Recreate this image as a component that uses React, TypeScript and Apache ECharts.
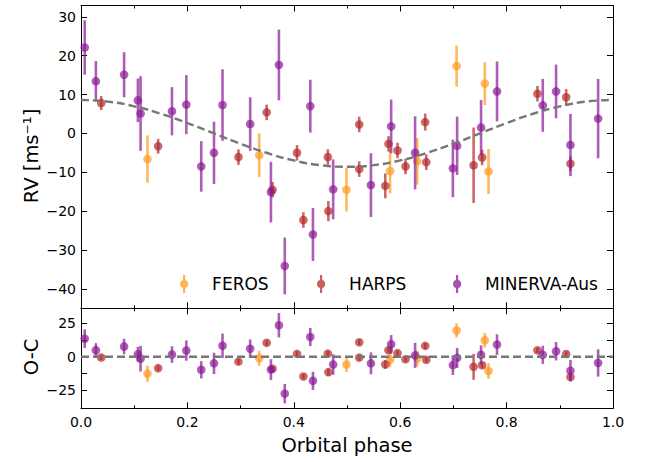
import React, { useEffect, useRef } from "react";
import * as echarts from "echarts";

// ---- Data ----
const ferosPhase = [0.125, 0.335, 0.499, 0.581, 0.632, 0.706, 0.759, 0.766];
const ferosRv = [-6.6, -5.6, -14.5, -9.7, -7.2, 17.3, 12.8, -9.8];
const ferosErr = [6.1, 5.6, 5.6, 5.7, 6.0, 5.3, 5.5, 5.8];
const ferosOc = [-12.7, -1.2, -5.9, -2.2, -1.4, 19.7, 12.3, -10.7];

const harpsPhase = [0.038, 0.145, 0.296, 0.349, 0.36, 0.406, 0.418, 0.464, 0.465, 0.523, 0.523, 0.572, 0.578, 0.595, 0.61, 0.647, 0.649, 0.738, 0.754, 0.858, 0.912, 0.92];
const harpsRv = [7.8, -3.3, -6.1, 5.4, -14.5, -5.0, -22.3, -6.1, -20.0, 2.3, -9.2, -13.5, -2.7, -4.4, -8.5, 2.9, -7.4, -8.2, -6.2, 10.2, 9.3, -7.8];
const harpsErr = [1.8, 1.9, 2.0, 2.0, 2.0, 2.0, 2.0, 2.0, 2.6, 2.0, 2.0, 3.2, 2.0, 2.0, 2.0, 2.2, 2.0, 9.7, 2.0, 2.0, 2.1, 1.9];
const harpsOc = [-0.6, -8.6, -3.7, 10.4, -9.0, 2.1, -14.8, 2.3, -11.6, 10.8, -0.7, -5.8, 4.9, 2.7, -1.9, 8.1, -2.3, -7.6, -6.4, 4.8, 2.0, -15.3];

const minervaPhase = [0.007, 0.028, 0.081, 0.107, 0.112, 0.171, 0.198, 0.226, 0.25, 0.266, 0.318, 0.357, 0.372, 0.383, 0.431, 0.436, 0.474, 0.545, 0.583, 0.628, 0.699, 0.707, 0.752, 0.782, 0.868, 0.893, 0.92, 0.972];
const minervaRv = [22.1, 13.4, 15.1, 8.5, 5.1, 5.7, 7.4, -8.5, -5.0, 7.3, 2.4, -15.1, 17.6, -34.1, 7.0, -26.0, -14.4, -13.3, 1.8, -5.0, -9.0, -3.2, 1.5, 10.8, 7.2, 10.8, -3.0, 3.8];
const minervaErr = [7.0, 5.2, 5.8, 5.6, 9.6, 6.2, 7.6, 6.5, 8.0, 9.2, 6.9, 7.8, 9.1, 7.3, 6.8, 6.8, 7.7, 8.2, 6.9, 9.4, 7.4, 7.5, 7.1, 7.7, 6.8, 6.9, 8.0, 10.2];
const minervaOc = [13.5, 4.9, 7.6, 1.8, -1.5, 1.6, 4.6, -9.8, -5.0, 8.2, 6.0, -9.7, 23.6, -27.7, 14.8, -18.1, -5.9, -5.0, 9.3, 1.0, -6.3, -0.9, 1.4, 9.1, 1.4, 4.1, -10.5, -4.7];

const modelPhase = [0, 0.05, 0.1, 0.15, 0.2, 0.25, 0.3, 0.35, 0.4, 0.45, 0.5, 0.55, 0.6, 0.65, 0.7, 0.75, 0.8, 0.85, 0.9, 0.95, 1.0];
const modelRv = [8.6, 8.18, 6.96, 5.05, 2.66, 0, -2.66, -5.05, -6.96, -8.18, -8.6, -8.18, -6.96, -5.05, -2.66, 0, 2.66, 5.05, 6.96, 8.18, 8.6];
const zeroPhase = [0, 1];
const zeroOc = [0, 0];

const rvTicks = [-40, -30, -20, -10, 0, 10, 20, 30];
const ocLabels = [-25, 0, 25];
const ocTicks = [-25, -12.5, 0, 12.5, 25];

const COLORS = { FEROS: "#ff9a1f", HARPS: "#b52a2a", "MINERVA-Aus": "#8a1896" };
const FONT = "DejaVu Sans";
const ICON = "path://M3.8,0H6.2V5.6A4.56,4.56,0,0,1,6.2,14.4V20H3.8V14.4A4.56,4.56,0,0,1,3.8,5.6Z";

const fmt = (v: number) => (v < 0 ? "\u2212" + String(-v) : String(v));

export default function App() {
  const ref = useRef<HTMLDivElement>(null);
  useEffect(() => {
    if (!ref.current) return;
    const chart = echarts.init(ref.current, undefined, { renderer: "svg" });

    const render = (color: string) => (_p: any, api: any) => {
      const x = api.value(0), y = api.value(1), e = api.value(2);
      const t = api.coord([x, y + e]);
      const b = api.coord([x, y - e]);
      const c = api.coord([x, y]);
      return {
        type: "group",
        children: [
          { type: "line", shape: { x1: t[0], y1: t[1], x2: b[0], y2: b[1] }, style: { stroke: color, lineWidth: 2.6, opacity: 0.7 } },
          { type: "circle", shape: { cx: c[0], cy: c[1], r: 4.3 }, style: { fill: color, opacity: 0.7 } },
        ],
      };
    };

    const instruments = [
      { name: "FEROS", ph: ferosPhase, rv: ferosRv, err: ferosErr, oc: ferosOc },
      { name: "HARPS", ph: harpsPhase, rv: harpsRv, err: harpsErr, oc: harpsOc },
      { name: "MINERVA-Aus", ph: minervaPhase, rv: minervaRv, err: minervaErr, oc: minervaOc },
    ];

    const series: any[] = [];
    instruments.forEach((ins) => {
      const color = (COLORS as any)[ins.name];
      series.push({
        type: "custom", name: ins.name, xAxisIndex: 0, yAxisIndex: 0,
        itemStyle: { color }, renderItem: render(color), encode: { x: 0, y: 1 },
        data: ins.ph.map((p, i) => [p, ins.rv[i], ins.err[i]]), z: 2,
      });
    });
    instruments.forEach((ins) => {
      const color = (COLORS as any)[ins.name];
      series.push({
        type: "custom", name: ins.name, xAxisIndex: 2, yAxisIndex: 2,
        itemStyle: { color }, renderItem: render(color), encode: { x: 0, y: 1 },
        data: ins.ph.map((p, i) => [p, ins.oc[i], ins.err[i]]), z: 2,
      });
    });
    series.push({
      type: "line", xAxisIndex: 0, yAxisIndex: 0, smooth: true, symbol: "none", z: 5,
      lineStyle: { color: "#777777", width: 2.4, type: [8, 4] },
      data: modelPhase.map((p, i) => [p, modelRv[i]]),
    });
    series.push({
      type: "line", xAxisIndex: 2, yAxisIndex: 2, symbol: "none", z: 5,
      lineStyle: { color: "#777777", width: 2.4, type: [8, 4] },
      data: zeroPhase.map((p, i) => [p, zeroOc[i]]),
    });

    const axLine = { show: true, onZero: false, lineStyle: { color: "#000", width: 1 } };
    const xBase = (grid: number, pos: string, labels: boolean) => ({
      type: "value", gridIndex: grid, position: pos, min: 0, max: 1, interval: 0.2,
      axisLine: axLine, splitLine: { show: false },
      axisTick: { show: true, inside: true, length: 6, lineStyle: { color: "#000" } },
      minorTick: { show: true, splitNumber: 2, length: 3, lineStyle: { color: "#000" } },
      axisLabel: labels
        ? { show: true, margin: 7, fontSize: 14, fontFamily: FONT, color: "#000", formatter: (v: number) => v.toFixed(1) }
        : { show: false },
    });
    const yBase = (grid: number, pos: string, min: number, max: number, ticks: number[], labels: number[] | null) => ({
      type: "value", gridIndex: grid, position: pos, min, max,
      axisLine: axLine, splitLine: { show: false },
      axisTick: { show: true, inside: true, length: 6, customValues: ticks, lineStyle: { color: "#000" } },
      axisLabel: labels
        ? { show: true, customValues: labels, margin: 5, fontSize: 14, fontFamily: FONT, color: "#000", formatter: fmt }
        : { show: false },
    });

    const legendAt = (name: string, left: number) => ({
      show: true, left, top: 275, padding: 0, orient: "horizontal", itemWidth: 10, itemHeight: 18,
      data: [{ name, icon: ICON }], selectedMode: false,
      itemStyle: { opacity: 0.75 },
      textStyle: { fontSize: 17, fontFamily: FONT, color: "#000", padding: [0, 0, 0, 18] },
    });

    chart.setOption({
      animation: false,
      backgroundColor: "#fff",
      grid: [
        { left: 81, right: 41, top: 5.5, height: 302.8 },
        { left: 81, right: 41, top: 308.3, height: 100 },
      ],
      xAxis: [xBase(0, "bottom", false), xBase(0, "top", false), xBase(1, "bottom", true), xBase(1, "top", false)],
      yAxis: [
        yBase(0, "left", -45, 32.9, rvTicks, rvTicks),
        yBase(0, "right", -45, 32.9, rvTicks, null),
        yBase(1, "left", -38.7, 36.3, ocTicks, ocLabels),
        yBase(1, "right", -38.7, 36.3, ocTicks, null),
      ],
      legend: [legendAt("FEROS", 180), legendAt("HARPS", 317), legendAt("MINERVA-Aus", 453)],
      graphic: [
        { type: "text", x: 31, y: 156, rotation: Math.PI / 2, style: { text: "RV [ms\u207B\u00B9]", fontSize: 19.5, fontFamily: FONT, fill: "#000", align: "center", verticalAlign: "middle" } },
        { type: "text", x: 31, y: 357, rotation: Math.PI / 2, style: { text: "O-C", fontSize: 19.5, fontFamily: FONT, fill: "#000", align: "center", verticalAlign: "middle" } },
        { type: "text", x: 347, y: 445, style: { text: "Orbital phase", fontSize: 19.5, fontFamily: FONT, fill: "#000", align: "center", verticalAlign: "middle" } },
      ],
      series,
    });
    return () => chart.dispose();
  }, []);
  return <div ref={ref} style={{ position: "fixed", left: 0, top: 0, width: 654, height: 462 }} />;
}
